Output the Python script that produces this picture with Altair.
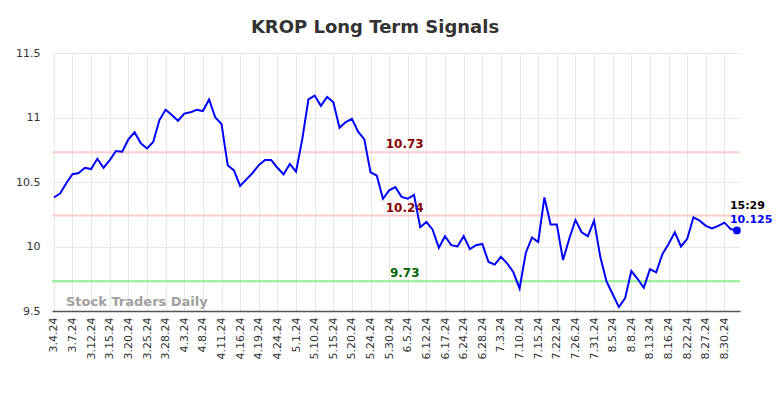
import altair as alt
import pandas as pd

tick_labels = ["3.4.24", "3.7.24", "3.12.24", "3.15.24", "3.20.24", "3.25.24", "3.28.24",
               "4.3.24", "4.8.24", "4.11.24", "4.16.24", "4.19.24", "4.24.24", "5.1.24",
               "5.10.24", "5.15.24", "5.20.24", "5.24.24", "5.30.24", "6.5.24", "6.12.24",
               "6.17.24", "6.24.24", "6.28.24", "7.3.24", "7.10.24", "7.15.24", "7.22.24",
               "7.26.24", "7.31.24", "8.5.24", "8.8.24", "8.13.24", "8.16.24", "8.22.24",
               "8.27.24", "8.30.24"]

prices = [10.38, 10.41, 10.49, 10.56, 10.57, 10.61, 10.60, 10.68, 10.61, 10.67,
          10.74, 10.735, 10.83, 10.885, 10.80, 10.76, 10.81, 10.98, 11.06, 11.02,
          10.975, 11.03, 11.04, 11.06, 11.05, 11.14, 11.00, 10.95, 10.63, 10.59,
          10.47, 10.52, 10.57, 10.63, 10.67, 10.67, 10.61, 10.56, 10.64, 10.58,
          10.83, 11.14, 11.17, 11.09, 11.16, 11.12, 10.92, 10.965, 10.99, 10.89,
          10.83, 10.575, 10.55, 10.37, 10.435, 10.46, 10.385, 10.37, 10.40, 10.15,
          10.19, 10.13, 9.99, 10.08, 10.01, 10.00, 10.08, 9.98, 10.01, 10.02,
          9.88, 9.86, 9.92, 9.87, 9.80, 9.675, 9.95, 10.07, 10.035, 10.38,
          10.17, 10.17, 9.895, 10.06, 10.205, 10.11, 10.08, 10.20, 9.92, 9.73,
          9.63, 9.53, 9.60, 9.81, 9.75, 9.68, 9.825, 9.80, 9.94, 10.02,
          10.11, 10.00, 10.06, 10.226, 10.20, 10.16, 10.14, 10.16, 10.185, 10.135,
          10.125]

levels = [10.73, 10.24, 9.73]
level_text = ["10.73", "10.24", "9.73"]
level_line_colors = ["#ffcccc", "#ffcccc", "#90ee90"]
level_text_colors = ["#8b0000", "#8b0000", "#006400"]

last_time = "15:29"
last_value_text = "10.125"

df = pd.DataFrame({"i": list(range(len(prices))), "price": prices})
n = len(prices)
tick_idx = [3 * k for k in range(len(tick_labels))]
label_arr = "[" + ",".join("'" + t + "'" for t in tick_labels) + "]"

xscale = alt.Scale(domain=[-0.3, n - 0.5], nice=False, zero=False)
yscale = alt.Scale(domain=[9.5, 11.5], nice=False, zero=False)

x_axis = alt.Axis(values=tick_idx, labelExpr=label_arr + "[round(datum.value/3)]",
                  labelAngle=-90, labelAlign="right", labelBaseline="middle",
                  labelFont="DejaVu Sans", labelFontSize=11, labelColor="#333333",
                  labelPadding=6, ticks=False, domain=True, domainColor="#555555",
                  domainWidth=1.5, gridColor="#e8e8e8", gridWidth=1, title=None,
                  labelOverlap=False)
y_axis = alt.Axis(values=[9.5, 10, 10.5, 11, 11.5], format=".1~f",
                  labelFont="DejaVu Sans", labelFontSize=11, labelColor="#333333",
                  labelPadding=12, ticks=False, domain=False, gridColor="#e8e8e8",
                  gridWidth=1, title=None)


def X(field):
    return alt.X(field, scale=xscale, axis=x_axis)


def Y(field):
    return alt.Y(field, scale=yscale, axis=y_axis)


lev_df = pd.DataFrame({"level": levels, "text": level_text,
                       "lc": level_line_colors, "tc": level_text_colors,
                       "pos": [56.5] * 3})

level_rules = alt.Chart(lev_df).mark_rule(strokeWidth=2).encode(
    y=Y("level:Q"),
    color=alt.Color("lc:N", scale=None),
)
level_labels = alt.Chart(lev_df).mark_text(
    font="DejaVu Sans", fontSize=12, fontWeight="bold", baseline="middle",
    align="center", dy=-8).encode(
    x=X("pos:Q"),
    y=Y("level:Q"),
    text="text:N",
    color=alt.Color("tc:N", scale=None),
)

line = alt.Chart(df).mark_line(color="#0000ff", strokeWidth=2).encode(
    x=X("i:Q"),
    y=Y("price:Q"),
)

last_df = df.tail(1).assign(t=last_time, v=last_value_text)
last_pt = alt.Chart(last_df).mark_circle(size=60, color="#0000ff", opacity=1).encode(
    x=X("i:Q"), y=Y("price:Q"))
last_t = alt.Chart(last_df).mark_text(
    font="DejaVu Sans", fontSize=11, fontWeight="bold", align="left",
    baseline="middle", dx=-7, dy=-24, color="#000000").encode(
    x=X("i:Q"), y=Y("price:Q"), text="t:N")
last_v = alt.Chart(last_df).mark_text(
    font="DejaVu Sans", fontSize=11, fontWeight="bold", align="left",
    baseline="middle", dx=-7, dy=-10, color="#0000ff").encode(
    x=X("i:Q"), y=Y("price:Q"), text="v:N")

watermark = alt.Chart(pd.DataFrame({"w": ["Stock Traders Daily"]})).mark_text(
    font="DejaVu Sans", fontSize=13, fontWeight="bold", align="left",
    baseline="middle", color="#a0a0a0").encode(
    x=alt.value(14), y=alt.value(249), text="w:N")

chart = alt.layer(level_rules, level_labels, watermark, line, last_pt, last_t, last_v).properties(
    width=688, height=258,
    title=alt.TitleParams("KROP Long Term Signals", font="DejaVu Sans", fontSize=18,
                          fontWeight="bold", color="#333333", anchor="middle",
                          dx=-21, offset=10),
    autosize=alt.AutoSizeParams(type="none"),
    padding={"left": 44, "top": 45, "right": 36, "bottom": 79},
).configure_view(stroke=None)

chart.save("out.html", embed_options={"renderer": "svg", "actions": False})
